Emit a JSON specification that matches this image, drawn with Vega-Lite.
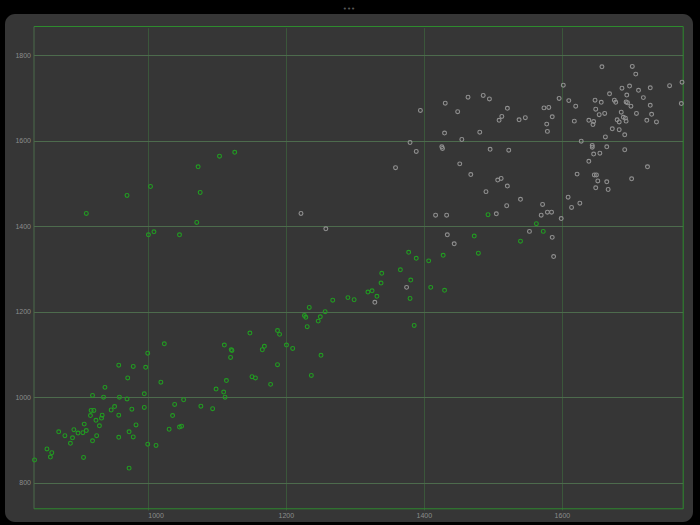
{
 "$schema": "https://vega.github.io/schema/vega-lite/v6.json",
 "width": 688, "height": 508,
 "autosize": {"type": "none"},
 "padding": {"left": 5, "top": 14, "right": 7, "bottom": 3},
 "background": "#000000",
 "title": {"text": "•••", "fontSize": 7, "color": "#5a5a5a", "offset": 2, "anchor": "middle", "font": "DejaVu Sans", "fontWeight": "normal"},
 "config": {
  "view": {"fill": "#363636", "stroke": null, "cornerRadius": 10},
  "axis": {"labelFont": "Liberation Sans", "labelFontSize": 7, "labelColor": "#8c8c8c", "ticks": false, "title": null, "domainWidth": 1, "gridWidth": 1, "format": "d"}
 },
 "datasets": {
  "pts": [
   {"x":1024,"y":1125,"g":"a"},{"x":1000,"y":1103,"g":"a"},{"x":958,"y":1075,"g":"a"},{"x":979,"y":1072,"g":"a"},{"x":997,"y":1070,"g":"a"},{"x":971,"y":1045,"g":"a"},{"x":1019,"y":1035,"g":"a"},{"x":938,"y":1023,"g":"a"},{"x":995,"y":1008,"g":"a"},{"x":920,"y":1004,"g":"a"},{"x":936,"y":1000,"g":"a"},{"x":959,"y":1000,"g":"a"},{"x":970,"y":996,"g":"a"},{"x":1052,"y":994,"g":"a"},{"x":1039,"y":983,"g":"a"},{"x":952,"y":978,"g":"a"},{"x":995,"y":976,"g":"a"},{"x":918,"y":969,"g":"a"},{"x":922,"y":969,"g":"a"},{"x":947,"y":970,"g":"a"},{"x":977,"y":972,"g":"a"},{"x":917,"y":957,"g":"a"},{"x":934,"y":958,"g":"a"},{"x":958,"y":958,"g":"a"},{"x":1036,"y":957,"g":"a"},{"x":933,"y":951,"g":"a"},{"x":925,"y":946,"g":"a"},{"x":908,"y":937,"g":"a"},{"x":930,"y":933,"g":"a"},{"x":983,"y":935,"g":"a"},{"x":1049,"y":932,"g":"a"},{"x":1046,"y":930,"g":"a"},{"x":893,"y":924,"g":"a"},{"x":911,"y":922,"g":"a"},{"x":871,"y":919,"g":"a"},{"x":899,"y":916,"g":"a"},{"x":906,"y":917,"g":"a"},{"x":973,"y":919,"g":"a"},{"x":1031,"y":925,"g":"a"},{"x":880,"y":910,"g":"a"},{"x":891,"y":905,"g":"a"},{"x":926,"y":910,"g":"a"},{"x":958,"y":906,"g":"a"},{"x":979,"y":907,"g":"a"},{"x":920,"y":898,"g":"a"},{"x":888,"y":892,"g":"a"},{"x":1000,"y":890,"g":"a"},{"x":1012,"y":887,"g":"a"},{"x":854,"y":879,"g":"a"},{"x":861,"y":870,"g":"a"},{"x":859,"y":860,"g":"a"},{"x":907,"y":859,"g":"a"},{"x":836,"y":853,"g":"a"},{"x":973,"y":834,"g":"a"},
   {"x":1234,"y":1210,"g":"a"},{"x":1257,"y":1200,"g":"a"},{"x":1227,"y":1191,"g":"a"},{"x":1229,"y":1187,"g":"a"},{"x":1250,"y":1188,"g":"a"},{"x":1247,"y":1178,"g":"a"},{"x":1231,"y":1165,"g":"a"},{"x":1148,"y":1150,"g":"a"},{"x":1188,"y":1156,"g":"a"},{"x":1191,"y":1147,"g":"a"},{"x":1111,"y":1122,"g":"a"},{"x":1121,"y":1111,"g":"a"},{"x":1122,"y":1109,"g":"a"},{"x":1169,"y":1119,"g":"a"},{"x":1166,"y":1111,"g":"a"},{"x":1201,"y":1122,"g":"a"},{"x":1210,"y":1114,"g":"a"},{"x":1120,"y":1093,"g":"a"},{"x":1251,"y":1098,"g":"a"},{"x":1188,"y":1076,"g":"a"},{"x":1114,"y":1039,"g":"a"},{"x":1151,"y":1048,"g":"a"},{"x":1156,"y":1045,"g":"a"},{"x":1178,"y":1030,"g":"a"},{"x":1237,"y":1051,"g":"a"},{"x":1099,"y":1019,"g":"a"},{"x":1110,"y":1012,"g":"a"},{"x":1112,"y":1000,"g":"a"},{"x":1077,"y":979,"g":"a"},{"x":1094,"y":973,"g":"a"},
   {"x":1378,"y":1339,"g":"a"},{"x":1389,"y":1325,"g":"a"},{"x":1407,"y":1319,"g":"a"},{"x":1428,"y":1332,"g":"a"},{"x":1366,"y":1298,"g":"a"},{"x":1339,"y":1290,"g":"a"},{"x":1381,"y":1274,"g":"a"},{"x":1338,"y":1267,"g":"a"},{"x":1410,"y":1257,"g":"a"},{"x":1430,"y":1250,"g":"a"},{"x":1319,"y":1246,"g":"a"},{"x":1325,"y":1249,"g":"a"},{"x":1332,"y":1236,"g":"a"},{"x":1380,"y":1231,"g":"a"},{"x":1290,"y":1233,"g":"a"},{"x":1299,"y":1228,"g":"a"},{"x":1268,"y":1227,"g":"a"},{"x":1386,"y":1168,"g":"a"},{"x":1493,"y":1427,"g":"a"},{"x":1563,"y":1406,"g":"a"},{"x":1573,"y":1388,"g":"a"},{"x":1540,"y":1365,"g":"a"},{"x":1473,"y":1377,"g":"a"},{"x":1479,"y":1337,"g":"a"},
   {"x":1126,"y":1573,"g":"a"},{"x":1104,"y":1564,"g":"a"},{"x":1073,"y":1539,"g":"a"},{"x":1004,"y":1493,"g":"a"},{"x":1076,"y":1479,"g":"a"},{"x":970,"y":1472,"g":"a"},{"x":911,"y":1430,"g":"a"},{"x":1071,"y":1409,"g":"a"},{"x":1001,"y":1380,"g":"a"},{"x":1009,"y":1387,"g":"a"},{"x":1046,"y":1380,"g":"a"},
   {"x":1395,"y":1671,"g":"b"},{"x":1431,"y":1688,"g":"b"},{"x":1464,"y":1702,"g":"b"},{"x":1486,"y":1706,"g":"b"},{"x":1495,"y":1698,"g":"b"},{"x":1449,"y":1668,"g":"b"},{"x":1521,"y":1676,"g":"b"},{"x":1513,"y":1657,"g":"b"},{"x":1509,"y":1648,"g":"b"},{"x":1538,"y":1649,"g":"b"},{"x":1547,"y":1654,"g":"b"},{"x":1574,"y":1677,"g":"b"},{"x":1581,"y":1678,"g":"b"},{"x":1578,"y":1639,"g":"b"},{"x":1579,"y":1622,"g":"b"},{"x":1430,"y":1618,"g":"b"},{"x":1481,"y":1620,"g":"b"},{"x":1658,"y":1773,"g":"b"},{"x":1702,"y":1774,"g":"b"},{"x":1707,"y":1756,"g":"b"},{"x":1602,"y":1730,"g":"b"},{"x":1774,"y":1737,"g":"b"},{"x":1756,"y":1729,"g":"b"},{"x":1728,"y":1724,"g":"b"},{"x":1711,"y":1718,"g":"b"},{"x":1698,"y":1728,"g":"b"},{"x":1687,"y":1723,"g":"b"},{"x":1669,"y":1710,"g":"b"},{"x":1694,"y":1707,"g":"b"},{"x":1718,"y":1701,"g":"b"},{"x":1596,"y":1699,"g":"b"},{"x":1610,"y":1694,"g":"b"},{"x":1648,"y":1695,"g":"b"},{"x":1657,"y":1690,"g":"b"},{"x":1676,"y":1695,"g":"b"},{"x":1678,"y":1690,"g":"b"},{"x":1693,"y":1691,"g":"b"},{"x":1695,"y":1689,"g":"b"},{"x":1700,"y":1681,"g":"b"},{"x":1620,"y":1681,"g":"b"},{"x":1728,"y":1683,"g":"b"},{"x":1773,"y":1687,"g":"b"},{"x":1649,"y":1674,"g":"b"},{"x":1686,"y":1667,"g":"b"},{"x":1708,"y":1664,"g":"b"},{"x":1730,"y":1662,"g":"b"},{"x":1654,"y":1661,"g":"b"},{"x":1662,"y":1664,"g":"b"},{"x":1586,"y":1656,"g":"b"},{"x":1689,"y":1655,"g":"b"},{"x":1692,"y":1653,"g":"b"},{"x":1680,"y":1649,"g":"b"},{"x":1683,"y":1644,"g":"b"},{"x":1639,"y":1648,"g":"b"},{"x":1646,"y":1645,"g":"b"},{"x":1645,"y":1638,"g":"b"},{"x":1618,"y":1646,"g":"b"},{"x":1693,"y":1646,"g":"b"},{"x":1723,"y":1648,"g":"b"},{"x":1737,"y":1644,"g":"b"},{"x":1673,"y":1628,"g":"b"},{"x":1683,"y":1626,"g":"b"},{"x":1691,"y":1614,"g":"b"},
   {"x":1455,"y":1603,"g":"b"},{"x":1380,"y":1596,"g":"b"},{"x":1426,"y":1586,"g":"b"},{"x":1427,"y":1582,"g":"b"},{"x":1389,"y":1575,"g":"b"},{"x":1496,"y":1580,"g":"b"},{"x":1523,"y":1578,"g":"b"},{"x":1452,"y":1546,"g":"b"},{"x":1359,"y":1537,"g":"b"},{"x":1468,"y":1521,"g":"b"},{"x":1507,"y":1508,"g":"b"},{"x":1512,"y":1512,"g":"b"},{"x":1521,"y":1494,"g":"b"},{"x":1490,"y":1481,"g":"b"},{"x":1540,"y":1463,"g":"b"},{"x":1520,"y":1448,"g":"b"},{"x":1572,"y":1451,"g":"b"},{"x":1579,"y":1433,"g":"b"},{"x":1585,"y":1433,"g":"b"},{"x":1570,"y":1426,"g":"b"},{"x":1505,"y":1429,"g":"b"},{"x":1417,"y":1426,"g":"b"},{"x":1433,"y":1426,"g":"b"},{"x":1222,"y":1430,"g":"b"},{"x":1599,"y":1418,"g":"b"},{"x":1553,"y":1388,"g":"b"},{"x":1586,"y":1374,"g":"b"},{"x":1588,"y":1329,"g":"b"},{"x":1434,"y":1380,"g":"b"},{"x":1444,"y":1359,"g":"b"},{"x":1375,"y":1257,"g":"b"},{"x":1329,"y":1222,"g":"b"},{"x":1258,"y":1394,"g":"b"},{"x":1628,"y":1599,"g":"b"},{"x":1644,"y":1589,"g":"b"},{"x":1644,"y":1585,"g":"b"},{"x":1663,"y":1609,"g":"b"},{"x":1665,"y":1586,"g":"b"},{"x":1646,"y":1569,"g":"b"},{"x":1655,"y":1571,"g":"b"},{"x":1691,"y":1579,"g":"b"},{"x":1639,"y":1552,"g":"b"},{"x":1622,"y":1522,"g":"b"},{"x":1647,"y":1520,"g":"b"},{"x":1650,"y":1520,"g":"b"},{"x":1652,"y":1506,"g":"b"},{"x":1665,"y":1504,"g":"b"},{"x":1701,"y":1511,"g":"b"},{"x":1724,"y":1539,"g":"b"},{"x":1649,"y":1490,"g":"b"},{"x":1667,"y":1486,"g":"b"},{"x":1609,"y":1468,"g":"b"},{"x":1614,"y":1444,"g":"b"},{"x":1626,"y":1454,"g":"b"}
  ]
 },
 "data": {"name": "pts"},
 "layer": [
  {
   "mark": {"type": "point", "filled": false, "size": 15, "strokeWidth": 1.1, "opacity": 1},
   "encoding": {
    "x": {"field": "x", "type": "quantitative",
          "scale": {"domain": [834.5, 1775], "range": [28.5, 677.7], "nice": false, "zero": false},
          "axis": {"orient": "bottom", "offset": -13.7, "values": [1000, 1200, 1400, 1600], "grid": true, "gridColor": "#3b573b", "domainColor": "#2e8b2e", "labelFlush": 118, "labelPadding": 3}},
    "y": {"field": "y", "type": "quantitative",
          "scale": {"domain": [740, 1868.6], "range": [494.3, 12], "nice": false, "zero": false},
          "axis": {"orient": "left", "offset": -28.5, "values": [800, 1000, 1200, 1400, 1600, 1800], "grid": true, "gridColor": "#4d6b4d", "domainColor": "#4a6a4a", "labelPadding": 3}},
    "color": {"field": "g", "type": "nominal", "scale": {"domain": ["a", "b"], "range": ["#229c22", "#909090"]}, "legend": null}
   }
  },
  {
   "mark": {"type": "point", "opacity": 0},
   "encoding": {
    "x": {"field": "x", "type": "quantitative", "axis": {"orient": "top", "offset": -12, "labels": false, "grid": false, "domainColor": "#2e8b2e"}},
    "y": {"field": "y", "type": "quantitative", "axis": {"orient": "right", "offset": -10.3, "labels": false, "grid": false, "domainColor": "#2e8b2e"}}
   }
  }
 ],
 "resolve": {"axis": {"x": "independent", "y": "independent"}}
}
